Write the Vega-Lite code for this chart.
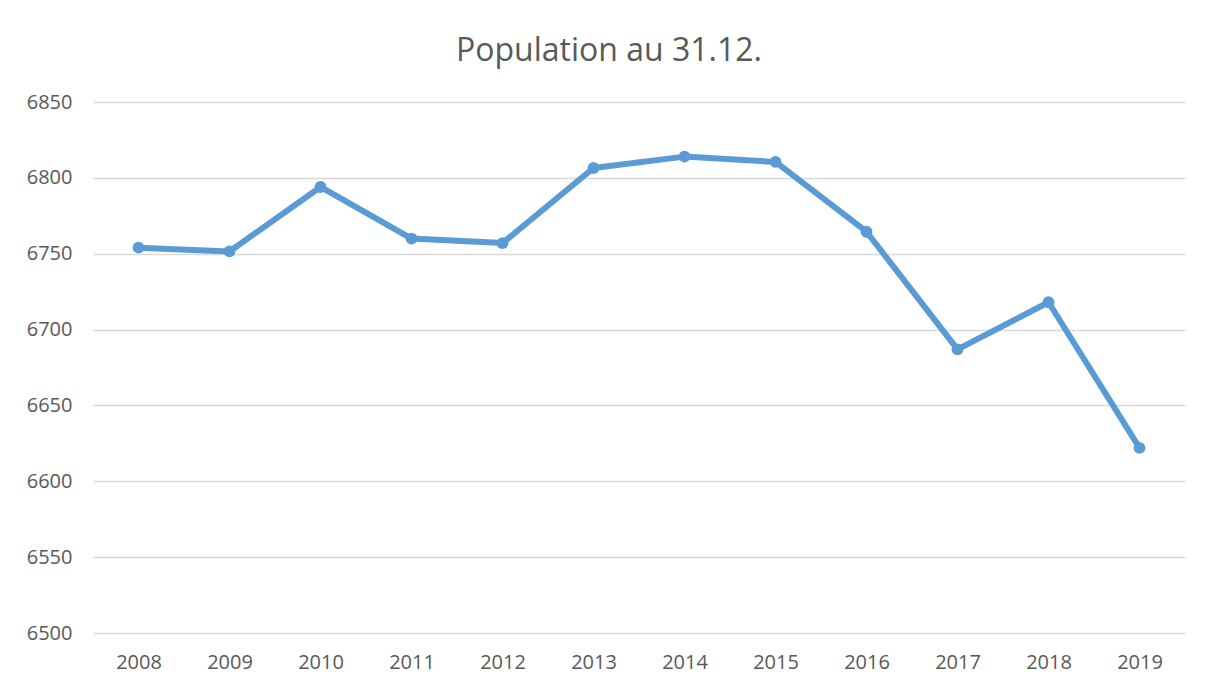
{
  "$schema": "https://vega.github.io/schema/vega-lite/v6.json",
  "autosize": {"type": "none"},
  "width": 1092,
  "height": 531,
  "padding": {"left": 93, "top": 102, "right": 30, "bottom": 59},
  "background": "white",
  "title": {
    "text": "Population au 31.12.",
    "font": "Open Sans",
    "fontSize": 32,
    "fontWeight": "normal",
    "color": "#595959",
    "anchor": "middle",
    "dx": -30,
    "offset": 24
  },
  "data": {
    "values": [
      {"year": "2008", "population": 6754},
      {"year": "2009", "population": 6751.5},
      {"year": "2010", "population": 6794},
      {"year": "2011", "population": 6760},
      {"year": "2012", "population": 6757},
      {"year": "2013", "population": 6806.5},
      {"year": "2014", "population": 6814},
      {"year": "2015", "population": 6810.5},
      {"year": "2016", "population": 6764.5},
      {"year": "2017", "population": 6687},
      {"year": "2018", "population": 6718},
      {"year": "2019", "population": 6622}
    ]
  },
  "encoding": {
    "x": {
      "field": "year",
      "type": "ordinal",
      "scale": {"type": "point", "padding": 0.5},
      "axis": {
        "title": null,
        "labelAngle": 0,
        "domain": false,
        "ticks": false,
        "grid": false,
        "labelPadding": 19,
        "labelFont": "Open Sans",
        "labelFontSize": 20,
        "labelColor": "#595959"
      }
    },
    "y": {
      "field": "population",
      "type": "quantitative",
      "scale": {"domain": [6500, 6850], "zero": false, "nice": false},
      "axis": {
        "title": null,
        "format": "d",
        "values": [6500, 6550, 6600, 6650, 6700, 6750, 6800, 6850],
        "domain": false,
        "ticks": false,
        "grid": true,
        "gridColor": "#d9d9d9",
        "gridWidth": 1.3,
        "labelPadding": 21,
        "labelFont": "Open Sans",
        "labelFontSize": 20,
        "labelColor": "#595959"
      }
    }
  },
  "layer": [
    {"mark": {"type": "line", "color": "#5b9bd5", "strokeWidth": 6, "strokeJoin": "round"}},
    {"mark": {"type": "circle", "color": "#5b9bd5", "size": 140, "opacity": 1}}
  ],
  "config": {"view": {"stroke": null}}
}
